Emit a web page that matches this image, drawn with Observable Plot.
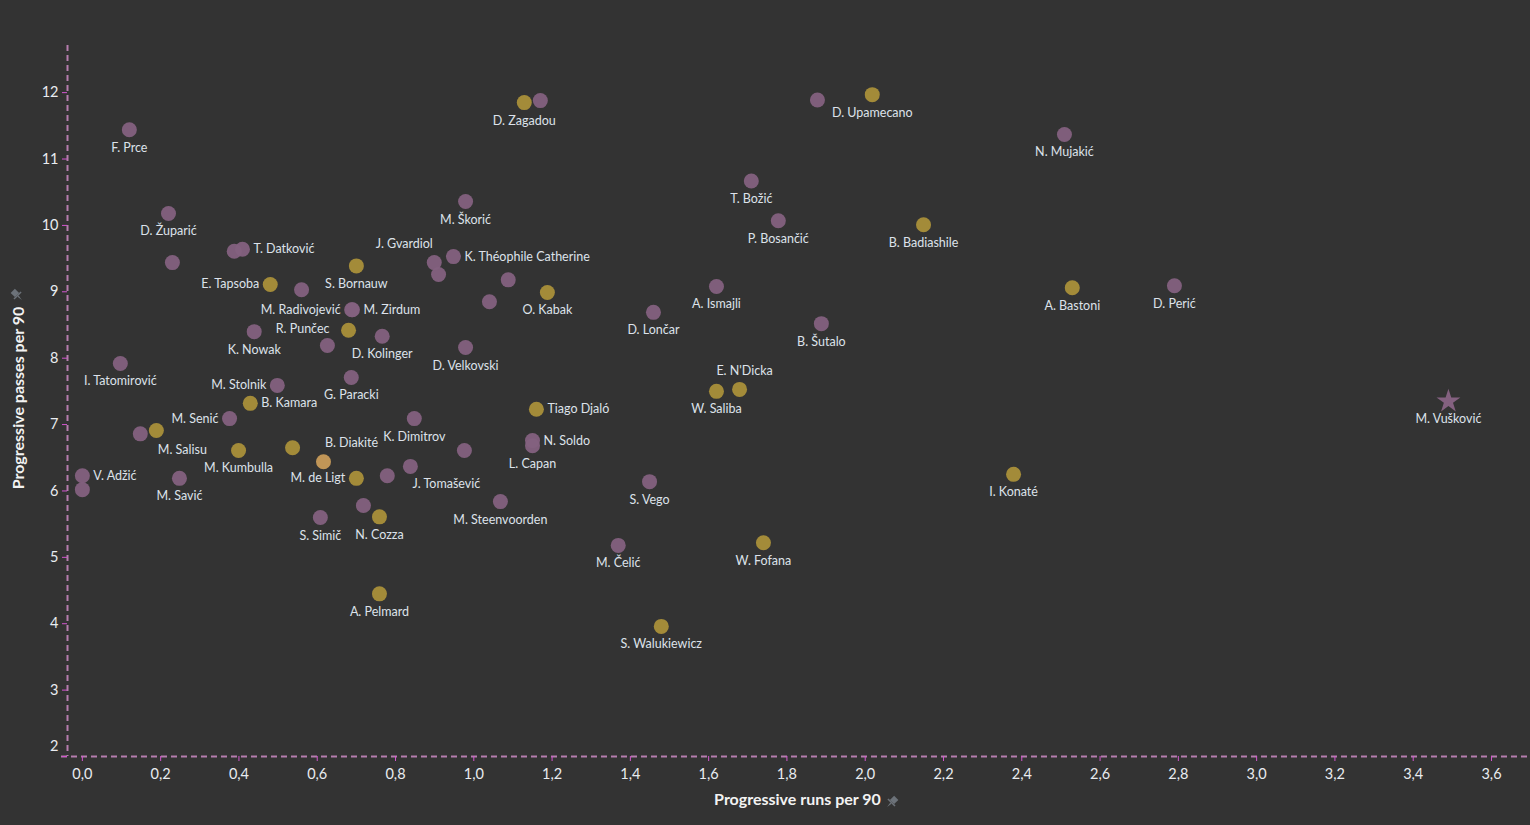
<!DOCTYPE html>
<html><head><meta charset="utf-8">
<script src="https://cdn.jsdelivr.net/npm/d3@7"></script>
<script src="https://cdn.jsdelivr.net/npm/@observablehq/plot@0.6"></script>
<style>
html,body{margin:0;padding:0;background:#333333;}
#chart{width:1530px;height:825px;overflow:hidden;}
</style></head><body><div id="chart"></div>
<script>
// ---- data ----
const players = ["F. Prce","D. Župarić","","","T. Datković","E. Tapsoba","","S. Bornauw","J. Gvardiol","","K. Théophile Catherine","M. Škorić","","","O. Kabak","M. Radivojević","M. Zirdum","R. Punčec","","K. Nowak","D. Kolinger","D. Velkovski","I. Tatomirović","M. Stolnik","G. Paracki","B. Kamara","M. Senić","","M. Salisu","M. Kumbulla","","B. Diakité","M. de Ligt","K. Dimitrov","","J. Tomašević","","S. Simič","","N. Cozza","A. Pelmard","M. Steenvoorden","N. Soldo","L. Capan","Tiago Djaló","D. Zagadou","","D. Upamecano","","N. Mujakić","T. Božić","P. Bosančić","B. Badiashile","A. Ismajli","D. Lončar","B. Šutalo","E. N'Dicka","W. Saliba","A. Bastoni","D. Perić","M. Vušković","I. Konaté","W. Fofana","S. Vego","M. Čelić","S. Walukiewicz","V. Adžić","","M. Savić"];
const runs = [0.12,0.22,0.23,0.388,0.409,0.48,0.56,0.70,0.899,0.91,0.948,0.979,1.088,1.04,1.188,0.688,0.69,0.68,0.626,0.439,0.766,0.979,0.097,0.498,0.687,0.429,0.376,0.148,0.189,0.399,0.537,0.616,0.70,0.848,0.779,0.838,0.976,0.608,0.718,0.759,0.759,1.068,1.15,1.15,1.16,1.129,1.17,2.018,1.878,2.509,1.709,1.778,2.149,1.62,1.459,1.888,1.679,1.62,2.529,2.79,3.49,2.379,1.74,1.449,1.369,1.479,0.0,0.0,0.248];
const passes = [11.44,10.18,9.44,9.61,9.64,9.11,9.03,9.39,9.44,9.26,9.53,10.36,9.18,8.85,8.99,8.73,8.73,8.42,8.19,8.40,8.33,8.16,7.92,7.59,7.71,7.32,7.09,6.86,6.91,6.61,6.65,6.44,6.19,7.09,6.23,6.37,6.61,5.60,5.78,5.61,4.45,5.84,6.76,6.68,7.23,11.85,11.88,11.97,11.89,11.37,10.67,10.07,10.01,9.08,8.69,8.52,7.53,7.50,9.06,9.09,7.35,6.25,5.22,6.14,5.18,3.96,6.23,6.02,6.19];
// P = purple group, G = gold group, H = highlighted, S = star (focus player)
const groups = ["P","P","P","P","P","G","P","G","P","P","P","P","P","P","G","P","P","G","P","P","P","P","P","P","P","G","P","P","G","G","G","H","G","P","P","P","P","P","P","G","G","P","P","P","G","G","P","G","P","P","P","P","G","P","P","P","G","G","G","P","S","G","G","P","P","G","P","P","P"];
const xTicks = [0,0.2,0.4,0.6,0.8,1.0,1.2,1.4,1.6,1.8,2.0,2.2,2.4,2.6,2.8,3.0,3.2,3.4,3.6];
const yTicks = [2,3,4,5,6,7,8,9,10,11,12];
const xTitle = "Progressive runs per 90";
const yTitle = "Progressive passes per 90";

// ---- layout / style ----
const xDomain = [-0.038, 3.692];
const yDomain = [2.0, 12.71];
const groupColors = {P:"#846180", G:"#aa903a", H:"#c99c5a", S:"#846180"};
const placementCodes = {
  below:[0,18,"middle"], right:[11,0,"start"], left:[-11,0,"end"],
  gvardiol:[-30,-19,"middle"], diakite:[28,-19,"middle"], above:[5,-18,"middle"],
  salisu:[26,19,"middle"], tomasevic:[36,18,"middle"], leftFar:[-19,-1,"end"]
};
const labelPlacement = {
  "T. Datković":"right","M. Zirdum":"right","B. Kamara":"right","V. Adžić":"right","N. Soldo":"right","Tiago Djaló":"right","K. Théophile Catherine":"right",
  "E. Tapsoba":"left","M. Radivojević":"left","M. Stolnik":"left","M. Senić":"left","M. de Ligt":"left","R. Punčec":"leftFar",
  "J. Gvardiol":"gvardiol","B. Diakité":"diakite","E. N'Dicka":"above","M. Salisu":"salisu","J. Tomašević":"tomasevic"
};

const data = players.map((name,i)=>({name, runs:runs[i], passes:passes[i], group:groups[i],
  place: labelPlacement[name] || "below"}));
const labelled = data.filter(d=>d.name!=="");

const fontFamily = "Lato, 'Open Sans', sans-serif";
const labelColor = "#dde2ea";
const axisDash = "#b57dae";
const tickColor = "#d455d0";
const fmt = d => d3.format(".1f")(d).replace(".", ",");

const textMarks = Object.entries(placementCodes).map(([code,[dx,dy,anchor]]) =>
  Plot.text(labelled.filter(d=>d.place===code), {x:"runs", y:"passes", text:"name", dx, dy, textAnchor:anchor,
    fill:labelColor, fontSize:12.5, fontFamily}));

const plot = Plot.plot({
  width:1530, height:825,
  marginLeft:67, marginRight:3, marginTop:45, marginBottom:69,
  style:{background:"#333333", color:"#e9ecf0", fontFamily, fontSize:"14px"},
  x:{domain:xDomain},
  y:{domain:yDomain},
  color:{domain:Object.keys(groupColors), range:Object.values(groupColors)},
  marks:[
    Plot.ruleX([xDomain[0]], {stroke:axisDash, strokeWidth:2, strokeDasharray:"6,4"}),
    Plot.ruleY([yDomain[0]], {stroke:axisDash, strokeWidth:2, strokeDasharray:"6,4", insetLeft:-6}),
    Plot.axisX({ticks:xTicks, tickFormat:fmt, tickSize:5, tickPadding:7, stroke:tickColor, fill:"#e9ecf0", fontSize:14.5, label:null}),
    Plot.axisY({ticks:yTicks, tickFormat:d=> d===yTicks[0] ? "" : d, tickSize:5, tickPadding:4, stroke:tickColor, fill:"#e9ecf0", fontSize:14.5, label:null}),
    Plot.text([yTicks[0]], {x:xDomain[0], y:d=>d, text:d=>String(d), dx:-9, dy:-10, textAnchor:"end", fill:"#e9ecf0", fontSize:14.5, fontFamily}),
    Plot.dot(data.filter(d=>d.group!=="S"), {x:"runs", y:"passes", r:7.5, fill:"group", fillOpacity:0.95}),
    Plot.dot(data.filter(d=>d.group==="S"), {x:"runs", y:"passes", r:7.5, symbol:"star", fill:"group"}),
    ...textMarks,
    Plot.text([xTitle], {frameAnchor:"bottom", dy:48, textAnchor:"middle", fontWeight:"bold", fontSize:16, fill:"#f2f2f2", fontFamily}),
    Plot.text([yTitle], {frameAnchor:"left", dx:-49, dy:-3, rotate:-90, textAnchor:"middle", fontWeight:"bold", fontSize:16, fill:"#f2f2f2", fontFamily})
  ]
});
document.getElementById("chart").appendChild(plot);

// small pin icons next to axis titles
const svg = d3.select(plot);
function pin(x, y, rot){
  const g = svg.append("g").attr("transform", `translate(${x},${y}) rotate(${rot})`).attr("fill","#6c7279");
  g.append("rect").attr("x",-3).attr("y",-6).attr("width",6).attr("height",6);
  g.append("path").attr("d","M-5,0 L5,0 L5,1.5 L-5,1.5 Z");
  g.append("path").attr("d","M-0.8,1.5 L0.8,1.5 L0,7 Z");
}
pin(892, 802, 45);
pin(17, 295, -45);
</script>
</body></html>
